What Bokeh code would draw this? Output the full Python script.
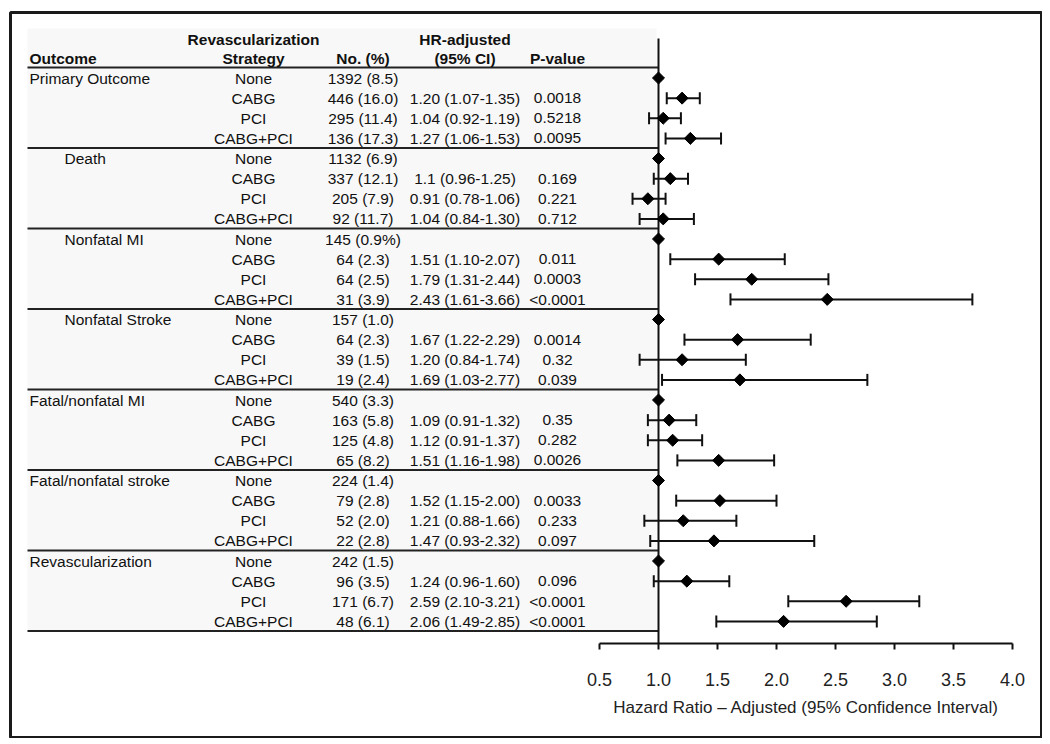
import numpy as np
from bokeh.plotting import figure
from bokeh.models import ColumnDataSource, Range1d, LinearAxis, FixedTicker, Whisker, TeeHead
from bokeh.core.properties import value
from bokeh.embed import file_html
from bokeh.resources import INLINE

# ---------------- data ----------------
outcomes = ["Primary Outcome", "Death", "Nonfatal MI", "Nonfatal Stroke",
            "Fatal/nonfatal MI", "Fatal/nonfatal stroke", "Revascularization"]
outcome_indented = [False, True, True, True, False, False, False]
strategies = ["None", "CABG", "PCI", "CABG+PCI"]

counts = ["1392 (8.5)", "446 (16.0)", "295 (11.4)", "136 (17.3)",
          "1132 (6.9)", "337 (12.1)", "205 (7.9)", "92 (11.7)",
          "145 (0.9%)", "64 (2.3)", "64 (2.5)", "31 (3.9)",
          "157 (1.0)", "64 (2.3)", "39 (1.5)", "19 (2.4)",
          "540 (3.3)", "163 (5.8)", "125 (4.8)", "65 (8.2)",
          "224 (1.4)", "79 (2.8)", "52 (2.0)", "22 (2.8)",
          "242 (1.5)", "96 (3.5)", "171 (6.7)", "48 (6.1)"]

hr_text = ["", "1.20 (1.07-1.35)", "1.04 (0.92-1.19)", "1.27 (1.06-1.53)",
           "", "1.1 (0.96-1.25)", "0.91 (0.78-1.06)", "1.04 (0.84-1.30)",
           "", "1.51 (1.10-2.07)", "1.79 (1.31-2.44)", "2.43 (1.61-3.66)",
           "", "1.67 (1.22-2.29)", "1.20 (0.84-1.74)", "1.69 (1.03-2.77)",
           "", "1.09 (0.91-1.32)", "1.12 (0.91-1.37)", "1.51 (1.16-1.98)",
           "", "1.52 (1.15-2.00)", "1.21 (0.88-1.66)", "1.47 (0.93-2.32)",
           "", "1.24 (0.96-1.60)", "2.59 (2.10-3.21)", "2.06 (1.49-2.85)"]

p_text = ["", "0.0018", "0.5218", "0.0095",
          "", "0.169", "0.221", "0.712",
          "", "0.011", "0.0003", "<0.0001",
          "", "0.0014", "0.32", "0.039",
          "", "0.35", "0.282", "0.0026",
          "", "0.0033", "0.233", "0.097",
          "", "0.096", "<0.0001", "<0.0001"]

hr = [1.0, 1.20, 1.04, 1.27,
      1.0, 1.1, 0.91, 1.04,
      1.0, 1.51, 1.79, 2.43,
      1.0, 1.67, 1.20, 1.69,
      1.0, 1.09, 1.12, 1.51,
      1.0, 1.52, 1.21, 1.47,
      1.0, 1.24, 2.59, 2.06]

ci_low = [None, 1.07, 0.92, 1.06,
          None, 0.96, 0.78, 0.84,
          None, 1.10, 1.31, 1.61,
          None, 1.22, 0.84, 1.03,
          None, 0.91, 0.91, 1.16,
          None, 1.15, 0.88, 0.93,
          None, 0.96, 2.10, 1.49]

ci_high = [None, 1.35, 1.19, 1.53,
           None, 1.25, 1.06, 1.30,
           None, 2.07, 2.44, 3.66,
           None, 2.29, 1.74, 2.77,
           None, 1.32, 1.37, 1.98,
           None, 2.00, 1.66, 2.32,
           None, 1.60, 3.21, 2.85]

tick_values = [0.5, 1.0, 1.5, 2.0, 2.5, 3.0, 3.5, 4.0]
tick_labels = ["0.5", "1.0", "1.5", "2.0", "2.5", "3.0", "3.5", "4.0"]

header_top = ["Revascularization", "HR-adjusted"]
header_bottom = ["Outcome", "Strategy", "No. (%)", "(95% CI)", "P-value"]
x_label = "Hazard Ratio \u2013 Adjusted (95% Confidence Interval)"

# ---------------- layout constants ----------------
FONT = value("Liberation Sans")
FS = "15.5px"
TXT = "#111111"
X_OUT, X_IND, X_STRAT, X_N, X_HR, X_P = 29, 64, 253, 362.5, 464.5, 557
TBL_L, TBL_R = 27, 658
AXIS_Y = 28.11

n_rows = len(counts)
rows = list(range(n_rows))
strat_col = [strategies[i % 4] for i in rows]

p = figure(width=1042, height=738,
           x_range=Range1d(-4.4915, 4.2458), y_range=Range1d(32.77, -3.2547),
           output_backend="svg", toolbar_location=None,
           x_axis_location=None, y_axis_location=None,
           min_border_left=10, min_border_right=1, min_border_top=12, min_border_bottom=1)
p.extra_x_ranges = {"tbl": Range1d(10, 1041)}
p.grid.visible = False
p.outline_line_color = "#1a1a1a"
p.outline_line_width = 3
p.background_fill_color = "white"
p.border_fill_color = "white"

# table background
p.quad(left=[TBL_L], right=[656], top=[-2.46], bottom=[27.48], x_range_name="tbl",
       fill_color="#f8f8f8", line_color=None)

# separators
sep_y = [4 * k - 0.52 for k in range(len(outcomes) + 1)]
p.segment(x0=TBL_L, x1=TBL_R, y0=sep_y, y1=sep_y, x_range_name="tbl",
          line_color="#222222", line_width=2)

# reference line at HR = 1
p.segment(x0=[1.0], x1=[1.0], y0=[-1.96], y1=[AXIS_Y], line_color="#111111", line_width=2)

# table text
tsrc = ColumnDataSource(dict(row=rows, strat=strat_col, n=counts, hrt=hr_text, pv=p_text))
for xpos, col in [(X_STRAT, "strat"), (X_N, "n"), (X_HR, "hrt"), (X_P, "pv")]:
    p.text(x=xpos, y="row", text=col, source=tsrc, x_range_name="tbl",
           text_align="center", text_baseline="middle",
           text_font=FONT, text_font_size=FS, text_color=TXT)

osrc = ColumnDataSource(dict(row=[4 * i for i in range(len(outcomes))],
                             x=[X_IND if ind else X_OUT for ind in outcome_indented],
                             text=outcomes))
p.text(x="x", y="row", text="text", source=osrc, x_range_name="tbl",
       text_align="left", text_baseline="middle",
       text_font=FONT, text_font_size=FS, text_color=TXT)

# headers
p.text(x=[X_STRAT, X_HR], y=[-1.91, -1.91], text=header_top, x_range_name="tbl",
       text_align="center", text_baseline="middle", text_font=FONT,
       text_font_size=FS, text_font_style="bold", text_color=TXT)
p.text(x=[X_OUT], y=[-0.97], text=header_bottom[:1], x_range_name="tbl",
       text_align="left", text_baseline="middle", text_font=FONT,
       text_font_size=FS, text_font_style="bold", text_color=TXT)
p.text(x=[X_STRAT, X_N, X_HR, X_P], y=[-0.97] * 4, text=header_bottom[1:], x_range_name="tbl",
       text_align="center", text_baseline="middle", text_font=FONT,
       text_font_size=FS, text_font_style="bold", text_color=TXT)

# error bars
ci_rows = [r for r in rows if ci_low[r] is not None]
wsrc = ColumnDataSource(dict(row=ci_rows, lo=[ci_low[r] for r in ci_rows],
                             hi=[ci_high[r] for r in ci_rows]))
w = Whisker(source=wsrc, base="row", lower="lo", upper="hi", dimension="width",
            line_color="#111111", line_width=2, level="annotation",
            lower_head=TeeHead(size=12, line_width=2, line_color="#111111"),
            upper_head=TeeHead(size=12, line_width=2, line_color="#111111"))
p.add_layout(w)

# point estimates
psrc = ColumnDataSource(dict(row=rows, hr=hr))
p.scatter(x="hr", y="row", source=psrc, marker="square", angle=np.pi / 4,
          size=8.5, fill_color="black", line_color="black", level="overlay")

# axis
ax = LinearAxis(fixed_location=AXIS_Y, bounds=(0.5, 4.0),
                ticker=FixedTicker(ticks=tick_values),
                major_label_overrides={v: l for v, l in zip(tick_values, tick_labels)},
                axis_label=x_label)
ax.axis_line_width = 2
ax.axis_line_color = "#111111"
ax.major_tick_line_width = 2
ax.major_tick_line_color = "#111111"
ax.major_tick_in = 0
ax.major_tick_out = 6
ax.minor_tick_line_color = None
ax.major_label_text_font = "Liberation Sans"
ax.major_label_text_font_size = "18px"
ax.major_label_text_color = "#222222"
ax.major_label_standoff = 23
ax.axis_label_text_font = "Liberation Sans"
ax.axis_label_text_font_size = "17px"
ax.axis_label_text_font_style = "normal"
ax.axis_label_text_color = "#222222"
ax.axis_label_standoff = 9
p.add_layout(ax, "below")

open("out.html", "w").write(file_html(p, INLINE))
